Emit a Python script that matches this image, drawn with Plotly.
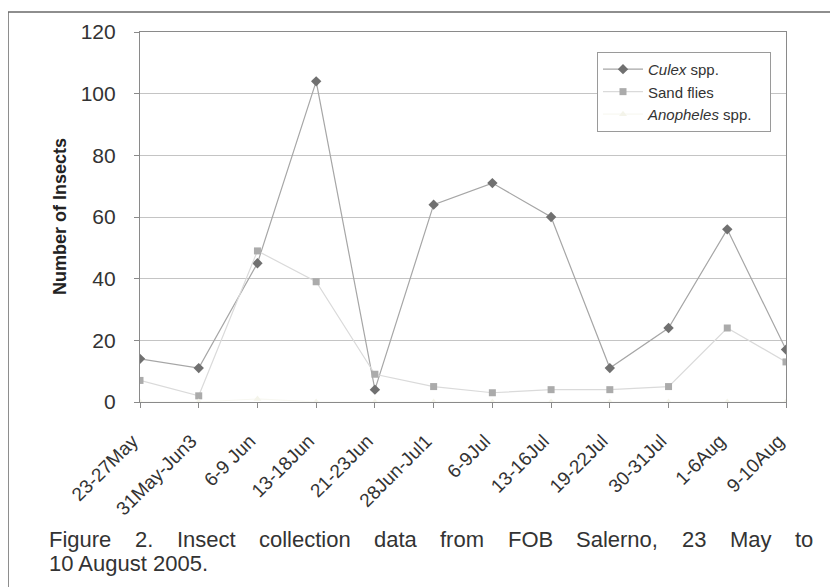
import plotly.graph_objects as go

categories = ["23-27May", "31May-Jun3", "6-9 Jun", "13-18Jun", "21-23Jun", "28Jun-Jul1",
              "6-9Jul", "13-16Jul", "19-22Jul", "30-31Jul", "1-6Aug", "9-10Aug"]
culex = [14, 11, 45, 104, 4, 64, 71, 60, 11, 24, 56, 17]
sand_flies = [7, 2, 49, 39, 9, 5, 3, 4, 4, 5, 24, 13]
anopheles = [0, 0, 1, 0, 0, 0, 0, 0, 0, 0, 0, 0]
y_ticks = [0, 20, 40, 60, 80, 100, 120]

caption_line1 = ["Figure", "2.", "Insect", "collection", "data", "from", "FOB",
                 "Salerno,", "23", "May", "to"]
caption_line2 = "10 August 2005."

# the page body has an 8px margin, so the figure is drawn 8px in from the window edge
OFF = 8
W, H = 838 - OFF, 587 - OFF
ML, MT = 140 - OFF, 30 - OFF
MR = W - (786 - OFF)
MB = H - (402 - OFF)
PW, PH = 786 - 140, 402 - 30


def px(x):
    return (x - 140) / PW


def py(y):
    return (402 - y) / PH


FONT = "Liberation Sans, Arial, sans-serif"
NB = "\u00a0"
xs = list(range(len(categories)))
tick_text = [c + NB * 2 for c in categories]

fig = go.Figure()
fig.add_trace(go.Scatter(
    x=xs, y=culex, name="<i>Culex</i> spp.", mode="lines+markers",
    line=dict(color="#a6a6a6", width=1.2),
    marker=dict(symbol="diamond", size=8, color="#707070"),
))
fig.add_trace(go.Scatter(
    x=xs, y=sand_flies, name="Sand flies", mode="lines+markers",
    line=dict(color="#dadada", width=1.2),
    marker=dict(symbol="square", size=7, color="#ababab"),
))
fig.add_trace(go.Scatter(
    x=xs, y=anopheles, name="<i>Anopheles</i> spp." + NB * 3, mode="lines+markers",
    line=dict(color="#f8f8f2", width=1.2),
    marker=dict(symbol="triangle-up", size=7, color="#f4f4ea"),
))

annotations = []
# justified caption: left edges of the words on the first line
word_left = [47, 133, 175, 257, 372, 438, 506, 574, 680, 728, 793]
for w, xl in zip(caption_line1, word_left):
    annotations.append(dict(text=w, x=px(xl), y=py(540), xref="paper", yref="paper",
                            xanchor="left", yanchor="middle", showarrow=False,
                            font=dict(family=FONT, size=22, color="#333333")))
annotations.append(dict(text=caption_line2, x=px(47), y=py(564), xref="paper", yref="paper",
                        xanchor="left", yanchor="middle", showarrow=False,
                        font=dict(family=FONT, size=22, color="#333333")))
annotations.append(dict(text="<b>Number of Insects</b>", x=px(60), y=py(216), xref="paper",
                        yref="paper", xanchor="center", yanchor="middle", textangle=-90,
                        showarrow=False, font=dict(family=FONT, size=18, color="#222222")))

fig.update_layout(
    width=W, height=H,
    margin=dict(l=ML, r=MR, t=MT, b=MB),
    paper_bgcolor="white", plot_bgcolor="white",
    font=dict(family=FONT, color="#333333"),
    showlegend=True,
    legend=dict(x=px(597), y=py(50), xanchor="left", yanchor="top",
                bgcolor="white", bordercolor="#9a9a9a", borderwidth=1,
                font=dict(family=FONT, size=15, color="#333333"),
                tracegroupgap=0, itemwidth=40),
    xaxis=dict(
        range=[0, len(categories) - 1],
        tickmode="array", tickvals=xs, ticktext=tick_text, tickangle=-45,
        tickfont=dict(family=FONT, size=19, color="#333333"),
        showgrid=False, zeroline=False,
        showline=True, linecolor="#8a8a8a", linewidth=1.2, mirror=True,
        ticks="outside", ticklen=5, tickcolor="#8a8a8a", ticklabelstandoff=7,
    ),
    yaxis=dict(
        range=[0, 120], tickmode="array", tickvals=y_ticks,
        tickfont=dict(family=FONT, size=21, color="#333333"),
        showgrid=True, gridcolor="#c4c4c4", gridwidth=1,
        zeroline=False, showline=True, linecolor="#8a8a8a", linewidth=1.2, mirror=True,
        ticks="outside", ticklen=5, tickcolor="#8a8a8a", ticklabelstandoff=14,
    ),
    annotations=annotations,
    shapes=[dict(type="rect", xref="paper", yref="paper",
                 x0=px(8), x1=px(834), y0=py(620), y1=py(10),
                 line=dict(color="#6a6a6a", width=1.5), fillcolor="rgba(0,0,0,0)",
                 layer="below")],
)

fig.write_html("out.html")
